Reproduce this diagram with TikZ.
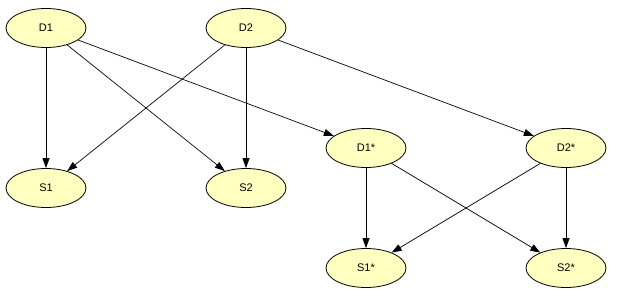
\documentclass[tikz,border=0pt]{standalone}
\usepackage{fontspec}
\setmainfont{Liberation Sans}
\usetikzlibrary{shapes.geometric,arrows.meta}
\definecolor{nodefill}{RGB}{255,255,192}
\tikzset{
  vnode/.style={ellipse, draw=black, fill=nodefill, line width=0.8pt,
    minimum width=80pt, minimum height=39pt, inner sep=0pt,
    font=\fontsize{11}{13}\selectfont},
  edge/.style={draw=black, line width=0.7pt, -{Triangle[length=10pt,width=7pt]}}
}
\begin{document}
\begin{tikzpicture}[x=1pt,y=-1pt]
\useasboundingbox (0,0) rectangle (642,305);
\node[vnode] (D1) at (46,28) {D1};
\node[vnode] (D2) at (246,28) {D2};
\node[vnode] (S1) at (46,188) {S1};
\node[vnode] (S2) at (246,188) {S2};
\node[vnode] (D1s) at (366,148) {D1*};
\node[vnode] (D2s) at (566,148) {D2*};
\node[vnode] (S1s) at (366,268) {S1*};
\node[vnode] (S2s) at (566,268) {S2*};
\draw[edge] (D1) -- (S1);
\draw[edge] (D1) -- (S2);
\draw[edge] (D1) -- (D1s);
\draw[edge] (D2) -- (S1);
\draw[edge] (D2) -- (S2);
\draw[edge] (D2) -- (D2s);
\draw[edge] (D1s) -- (S1s);
\draw[edge] (D1s) -- (S2s);
\draw[edge] (D2s) -- (S1s);
\draw[edge] (D2s) -- (S2s);
\end{tikzpicture}
\end{document}
